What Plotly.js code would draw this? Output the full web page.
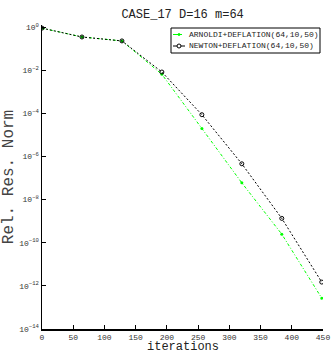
<!DOCTYPE html>
<html>
<head>
<meta charset="utf-8">
<script src="https://cdn.plot.ly/plotly-3.0.1.min.js"></script>
<style>html,body{margin:0;padding:0;background:#fff;}#chart{width:332px;height:353px;}</style>
</head>
<body>
<div id="chart"></div>
<script>
const iterations = [0, 64, 128, 192, 256, 320, 384, 448];
const arnoldiRes = [0.9, 0.35, 0.23, 6.5e-3, 2.0e-5, 6.0e-8, 2.5e-10, 2.7e-13];
const newtonRes = [0.9, 0.35, 0.23, 8.3e-3, 8.7e-5, 4.6e-7, 1.35e-9, 1.5e-12];
const seriesNames = ['ARNOLDI+DEFLATION(64,10,50)', 'NEWTON+DEFLATION(64,10,50)'];
const seriesColors = ['#00ff00', '#000000'];
const xTicks = [0, 50, 100, 150, 200, 250, 300, 350, 400, 450];
const yTickVals = [1, 1e-2, 1e-4, 1e-6, 1e-8, 1e-10, 1e-12, 1e-14];
const yTickText = ['10<sup>0</sup>', '10<sup>−2</sup>', '10<sup>−4</sup>', '10<sup>−6</sup>', '10<sup>−8</sup>', '10<sup>−10</sup>', '10<sup>−12</sup>', '10<sup>−14</sup>'];

const mono = 'Liberation Mono, Courier New, monospace';
const W = 332, H = 353, ML = 42, MR = 9, MT = 25, MB = 24;
const PW = W - ML - MR, PH = H - MT - MB;
const px = x => (x - ML) / PW;
const py = y => (H - MB - y) / PH;

const dashes = ['3px,2px,1px,2px', '2px,2px'];

const traces = [
  {
    x: iterations, y: arnoldiRes, name: seriesNames[0], type: 'scatter', mode: 'lines+markers',
    line: {color: seriesColors[0], width: 1, dash: dashes[0]},
    marker: {color: seriesColors[0], size: 3, symbol: 'circle'}, showlegend: false
  },
  {
    x: iterations, y: newtonRes, name: seriesNames[1], type: 'scatter', mode: 'lines+markers',
    line: {color: seriesColors[1], width: 1, dash: dashes[1]},
    marker: {color: seriesColors[1], size: 4, symbol: 'circle-open', line: {width: 1, color: '#000'}}, showlegend: false
  }
];

// compact legend box (built from series names/colours)
const shapes = [
  {type: 'rect', xref: 'paper', yref: 'paper', x0: px(171), x1: px(320), y0: py(53), y1: py(28),
   line: {color: '#000', width: 1}, fillcolor: '#fff', layer: 'above'}
];
const annotations = [];
const rowY = [34.5, 46];
seriesNames.forEach((n, i) => {
  shapes.push({type: 'line', xref: 'paper', yref: 'paper', x0: px(173), x1: px(185), y0: py(rowY[i]), y1: py(rowY[i]),
    line: {color: seriesColors[i], width: 1, dash: i === 0 ? 'dash' : 'solid'}, layer: 'above'});
  if (i === 0) {
    shapes.push({type: 'circle', xref: 'paper', yref: 'paper', x0: px(178), x1: px(180), y0: py(rowY[i] + 1), y1: py(rowY[i] - 1),
      line: {color: seriesColors[i], width: 1}, fillcolor: seriesColors[i], layer: 'above'});
  } else {
    shapes.push({type: 'circle', xref: 'paper', yref: 'paper', x0: px(177), x1: px(181), y0: py(rowY[i] + 2), y1: py(rowY[i] - 2),
      line: {color: '#000', width: 1}, fillcolor: '#fff', layer: 'above'});
  }
  annotations.push({text: n, xref: 'paper', yref: 'paper', x: px(186.5), y: py(rowY[i]), xanchor: 'left', yanchor: 'middle',
    showarrow: false, font: {family: mono, size: 8, color: '#222'}});
});
annotations.push({text: 'iterations', xref: 'paper', yref: 'paper', x: 0.5, y: py(346.5), xanchor: 'center', yanchor: 'middle',
  showarrow: false, font: {family: mono, size: 12, color: '#222'}});

const layout = {
  width: W, height: H,
  margin: {l: ML, r: MR, t: MT, b: MB, pad: 0},
  paper_bgcolor: '#fff', plot_bgcolor: '#fff',
  showlegend: false,
  title: {text: 'CASE_17 D=16 m=64', font: {family: mono, size: 12, color: '#222'}, x: 0.55, xanchor: 'center', y: 0.96, yanchor: 'middle'},
  xaxis: {
    range: [0, 450], tickvals: xTicks, ticktext: xTicks.map(String),
    ticks: 'inside', ticklen: 4, tickcolor: '#000', showline: true, linecolor: '#000', linewidth: 1.5,
    showgrid: false, zeroline: false, tickfont: {family: mono, size: 8, color: '#333'}
  },
  yaxis: {
    type: 'log', range: [-14, 0.1], tickvals: yTickVals, ticktext: yTickText,
    ticks: 'inside', ticklen: 4, tickcolor: '#000', showline: true, linecolor: '#000', linewidth: 1.5,
    showgrid: false, zeroline: false, tickfont: {family: mono, size: 8, color: '#333'},
    title: {text: 'Rel. Res. Norm', font: {family: mono, size: 16, color: '#444'}, standoff: 6}
  },
  shapes: shapes,
  annotations: annotations
};

Plotly.newPlot('chart', traces, layout, {displayModeBar: false, staticPlot: true});
</script>
</body>
</html>
